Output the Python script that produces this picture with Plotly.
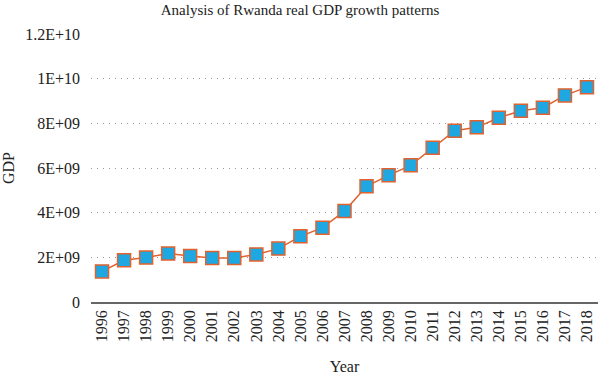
import plotly.graph_objects as go

years = [str(y) for y in range(1996, 2019)]
gdp = [1.37e9, 1.87e9, 1.99e9, 2.17e9, 2.06e9, 1.97e9, 1.97e9, 2.13e9, 2.39e9,
       2.94e9, 3.33e9, 4.07e9, 5.18e9, 5.67e9, 6.12e9, 6.91e9, 7.67e9, 7.82e9,
       8.25e9, 8.56e9, 8.70e9, 9.25e9, 9.62e9]
ytick_vals = [0, 2e9, 4e9, 6e9, 8e9, 1e10, 1.2e10]
ytick_text = ["0", "2E+09", "4E+09", "6E+09", "8E+09", "1E+10", "1.2E+10"]

FONT = "Liberation Serif"

fig = go.Figure()
fig.add_trace(go.Scatter(
    x=years, y=gdp, mode="lines+markers",
    line=dict(color="#E0622E", width=1.5),
    marker=dict(symbol="square", size=13, color="#1EA7E1",
                line=dict(color="#E0622E", width=1.5)),
    cliponaxis=False, showlegend=False,
))

fig.update_layout(
    width=600, height=380,
    margin=dict(l=91, r=2, t=34, b=78, autoexpand=False),
    paper_bgcolor="white", plot_bgcolor="white",
    font=dict(family=FONT, size=16, color="#222"),
    title=dict(text="Analysis of Rwanda real GDP growth patterns",
               x=0.5, xanchor="center", y=0.988, yanchor="top",
               font=dict(family=FONT, size=15, color="#222")),
    xaxis=dict(
        type="category", range=[-0.5, 22.5], tickangle=-90,
        showgrid=False, showline=True, linecolor="#666", linewidth=1.5,
        ticks="", tickfont=dict(family=FONT, size=16, color="#222"),
        title=dict(text="Year", standoff=20, font=dict(family=FONT, size=16, color="#222")),
        zeroline=False, automargin=False,
    ),
    yaxis=dict(
        range=[0, 1.2e10], tickvals=ytick_vals, ticktext=ytick_text,
        showgrid=True, gridcolor="#999", gridwidth=1, griddash="1px,5px",
        zeroline=False, showline=False, ticks="", ticklabelstandoff=10,
        tickfont=dict(family=FONT, size=16, color="#222"),
        title=dict(text="GDP", standoff=8, font=dict(family=FONT, size=16, color="#222")),
        automargin=False,
    ),
)

fig.write_html("out.html", config={"displayModeBar": False},
               post_script="document.body.style.margin='0';document.body.style.padding='0';")
